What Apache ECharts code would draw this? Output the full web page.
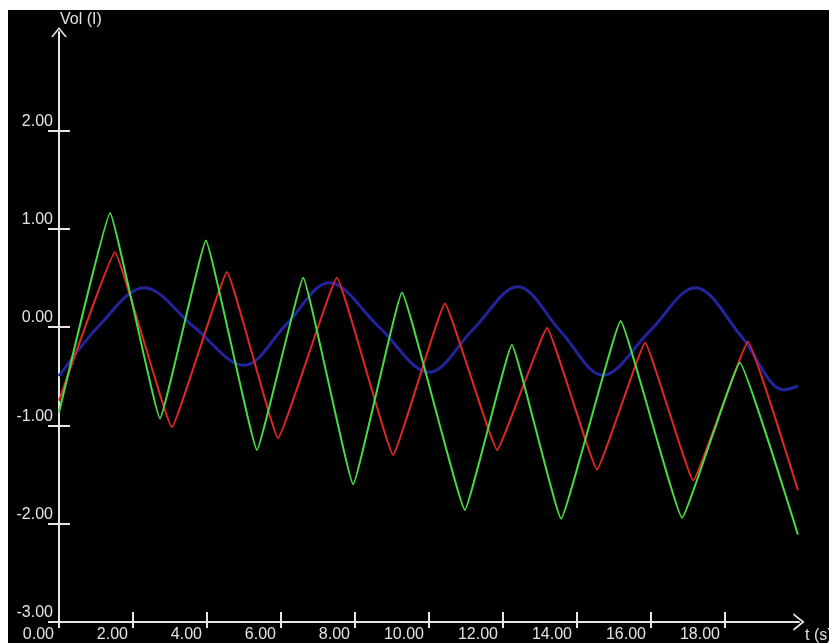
<!DOCTYPE html>
<html>
<head>
<meta charset="utf-8">
<script src="https://cdn.jsdelivr.net/npm/echarts@6/dist/echarts.min.js"></script>
<style>
  html, body { margin: 0; padding: 0; background: #ffffff; width: 829px; height: 643px; overflow: hidden; }
  #chart { position: absolute; left: 8px; top: 10px; width: 821px; height: 633px; }
</style>
</head>
<body>
<div id="chart"></div>
<script>
// ---- data ----
const xTicks = [0, 2, 4, 6, 8, 10, 12, 14, 16, 18];
const yTicks = [-3, -2, -1, 0, 1, 2];

const blueT = [0, 1.1, 2.3, 3.65, 5.0, 6.15, 7.3, 8.65, 10.0, 11.2, 12.4, 13.55, 14.7, 15.95, 17.2, 18.45, 19.6, 19.97];
const blueV = [-0.5, 0.02, 0.40, 0.0, -0.39, 0.03, 0.45, 0.0, -0.46, -0.02, 0.41, -0.04, -0.49, -0.05, 0.40, -0.10, -0.64, -0.60];

const redT = [0, 1.51, 3.05, 4.54, 5.92, 7.51, 9.03, 10.43, 11.84, 13.19, 14.54, 15.84, 17.14, 18.62, 19.97];
const redV = [-0.75, 0.76, -1.02, 0.56, -1.13, 0.50, -1.30, 0.24, -1.25, -0.01, -1.45, -0.16, -1.56, -0.15, -1.66];

const greenT = [0, 1.38, 2.73, 3.97, 5.35, 6.6, 7.95, 9.27, 10.97, 12.24, 13.57, 15.18, 16.84, 18.4, 19.97];
const greenV = [-0.87, 1.16, -0.93, 0.88, -1.25, 0.50, -1.60, 0.35, -1.86, -0.18, -1.95, 0.06, -1.94, -0.36, -2.11];

const xName = 't (s)';
const yName = 'Vol (I)';

// ---- chart ----
const pairs = (t, v) => t.map((x, i) => [x, v[i]]);
const axisColor = '#e6e6e6';
const font = { color: '#e2e2e2', fontFamily: 'Liberation Sans, Arial, sans-serif', fontSize: 16 };
const chevron = 'path://M0,10 L8,0 L16,10 L14,10 L8,2.5 L2,10 Z';

const chart = echarts.init(document.getElementById('chart'), null, { renderer: 'canvas' });
chart.setOption({
  backgroundColor: '#000000',
  animation: false,
  grid: { left: 51, top: 22, right: 30, bottom: 21, containLabel: false, outerBoundsMode: 'none' },
  xAxis: [
    {
      type: 'value', min: 0, max: 20, position: 'bottom',
      name: xName, nameLocation: 'end', nameGap: 6,
      nameTextStyle: Object.assign({}, font, { verticalAlign: 'top', align: 'left', padding: [6, 0, 0, 0] }),
      axisLine: { show: true, onZero: false, lineStyle: { color: axisColor, width: 2 },
        symbol: ['none', chevron], symbolSize: [18, 12] },
      axisTick: { show: true, inside: false, length: 6, customValues: xTicks, lineStyle: { color: axisColor, width: 2 } },
      axisLabel: Object.assign({}, font, { show: true, customValues: xTicks, align: 'right', verticalAlign: 'top',
        margin: 5, padding: [0, 5, 0, 0], formatter: v => v.toFixed(2) }),
      splitLine: { show: false }
    },
    {
      type: 'value', min: 0, max: 20, position: 'bottom',
      axisLine: { show: false, onZero: false },
      axisTick: { show: true, inside: true, length: 10, customValues: xTicks, lineStyle: { color: axisColor, width: 2 } },
      axisLabel: { show: false },
      splitLine: { show: false }
    }
  ],
  yAxis: [
    {
      type: 'value', min: -3, max: 3, position: 'left',
      name: yName, nameLocation: 'end', nameGap: 4,
      nameTextStyle: Object.assign({}, font, { align: 'left', padding: [0, 0, 0, 1] }),
      axisLine: { show: true, onZero: false, lineStyle: { color: axisColor, width: 2 },
        symbol: ['none', chevron], symbolSize: [16, 10] },
      axisTick: { show: true, inside: false, length: 11, customValues: yTicks, lineStyle: { color: axisColor, width: 2 } },
      axisLabel: Object.assign({}, font, { show: true, customValues: yTicks, align: 'right', verticalAlign: 'bottom',
        margin: 6, padding: [0, 0, 1, 0], formatter: v => v.toFixed(2) }),
      splitLine: { show: false }
    },
    {
      type: 'value', min: -3, max: 3, position: 'left',
      axisLine: { show: false, onZero: false },
      axisTick: { show: true, inside: true, length: 11, customValues: yTicks, lineStyle: { color: axisColor, width: 2 } },
      axisLabel: { show: false },
      splitLine: { show: false }
    }
  ],
  series: [
    { name: 'blue', type: 'line', data: pairs(blueT, blueV), showSymbol: false, smooth: 0.35,
      lineStyle: { color: '#23239c', width: 3 }, z: 2 },
    { name: 'red', type: 'line', data: pairs(redT, redV), showSymbol: false, smooth: 0.08,
      lineStyle: { color: '#e02626', width: 2 }, z: 3 },
    { name: 'green', type: 'line', data: pairs(greenT, greenV), showSymbol: false, smooth: 0.08,
      lineStyle: { color: '#46dc46', width: 2 }, z: 4 }
  ]
});
</script>
</body>
</html>
